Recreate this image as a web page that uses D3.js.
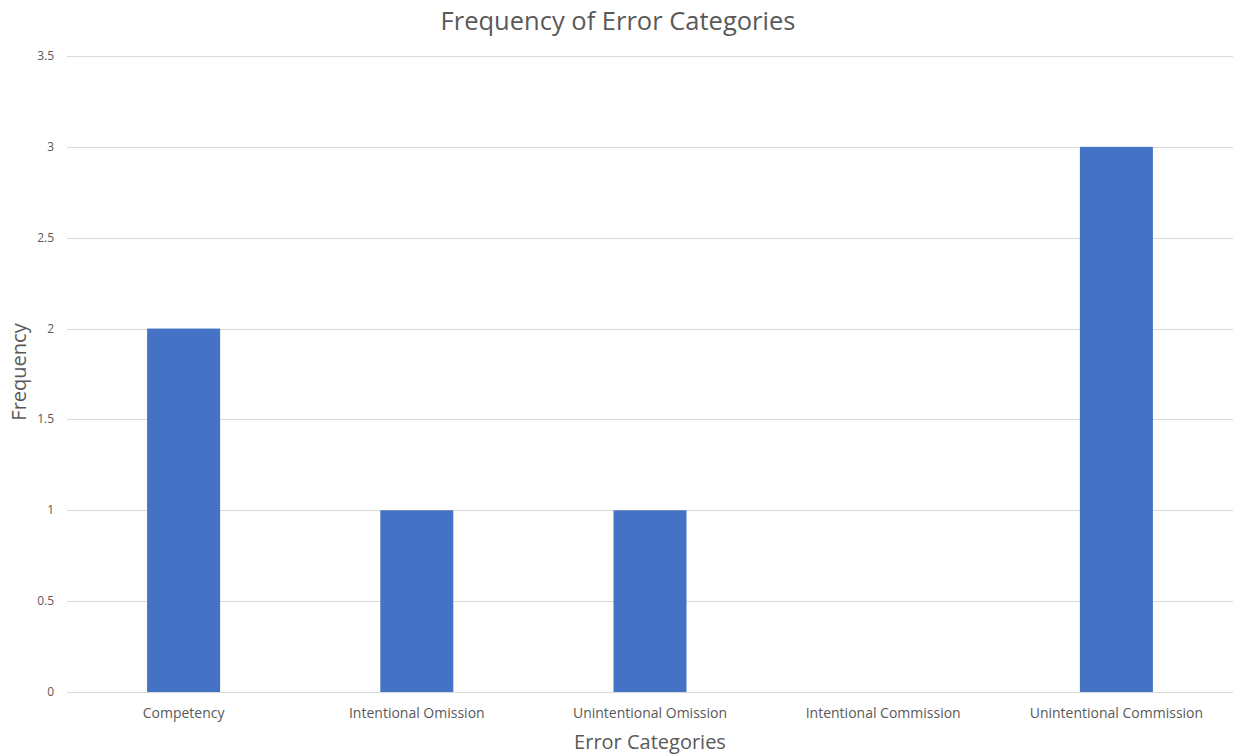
<!DOCTYPE html>
<html>
<head>
<meta charset="utf-8">
<script src="https://cdn.jsdelivr.net/npm/d3@7"></script>
<style>
  html, body { margin: 0; padding: 0; background: #fff; }
  svg { display: block; font-family: "Open Sans", "Noto Sans", sans-serif; }
</style>
</head>
<body>
<svg id="chart" width="1233" height="754"></svg>
<script>
// Error categories and how often each occurred
const categories = ["Competency", "Intentional Omission", "Unintentional Omission", "Intentional Commission", "Unintentional Commission"];
const frequencies = [2, 1, 1, 0, 3];
const yTicks = [0, 0.5, 1, 1.5, 2, 2.5, 3, 3.5];

const svg = d3.select("#chart");
const W = 1233, H = 754;
const margin = { left: 67, right: 0, top: 56, bottom: 62 };
const plotW = W - margin.left - margin.right;
const plotH = H - margin.top - margin.bottom;

const g = svg.append("g").attr("transform", `translate(${margin.left},${margin.top})`);

const x = d3.scaleBand().domain(categories).range([0, plotW]).paddingInner(0.687).paddingOuter(0.3435);
const y = d3.scaleLinear().domain([0, 3.5]).range([plotH, 0]);

// Horizontal gridlines
g.selectAll("line.grid").data(yTicks).join("line")
  .attr("class", "grid")
  .attr("x1", 0).attr("x2", plotW)
  .attr("y1", d => Math.round(y(d)) + 0.5).attr("y2", d => Math.round(y(d)) + 0.5)
  .attr("stroke", "#d9d9d9").attr("stroke-width", 1);

// Y tick labels
g.selectAll("text.ytick").data(yTicks).join("text")
  .attr("class", "ytick")
  .attr("x", -13).attr("y", d => y(d) + 4)
  .attr("text-anchor", "end")
  .attr("font-size", 12).attr("fill", "#595959")
  .text(d => d);

// Bars
g.selectAll("rect.bar").data(categories).join("rect")
  .attr("class", "bar")
  .attr("x", d => x(d)).attr("width", x.bandwidth())
  .attr("y", (d, i) => y(frequencies[i]))
  .attr("height", (d, i) => y(0) - y(frequencies[i]))
  .attr("fill", "#4472c4");

// Baseline axis
g.append("line")
  .attr("x1", 0).attr("x2", plotW)
  .attr("y1", Math.round(y(0)) + 0.5).attr("y2", Math.round(y(0)) + 0.5)
  .attr("stroke", "#d9d9d9").attr("stroke-width", 1);

// Category labels
g.selectAll("text.xtick").data(categories).join("text")
  .attr("class", "xtick")
  .attr("x", d => x(d) + x.bandwidth() / 2).attr("y", plotH + 26)
  .attr("text-anchor", "middle")
  .attr("font-size", 14).attr("fill", "#595959")
  .text(d => d);

// Title
svg.append("text")
  .attr("x", 618).attr("y", 30)
  .attr("text-anchor", "middle")
  .attr("font-size", 25.5).attr("fill", "#595959")
  .text("Frequency of Error Categories");

// Axis titles
svg.append("text")
  .attr("x", 650).attr("y", 749)
  .attr("text-anchor", "middle")
  .attr("font-size", 20).attr("fill", "#595959")
  .text("Error Categories");

svg.append("text")
  .attr("transform", "translate(26,372) rotate(-90)")
  .attr("text-anchor", "middle")
  .attr("font-size", 20).attr("fill", "#595959")
  .text("Frequency");
</script>
</body>
</html>
